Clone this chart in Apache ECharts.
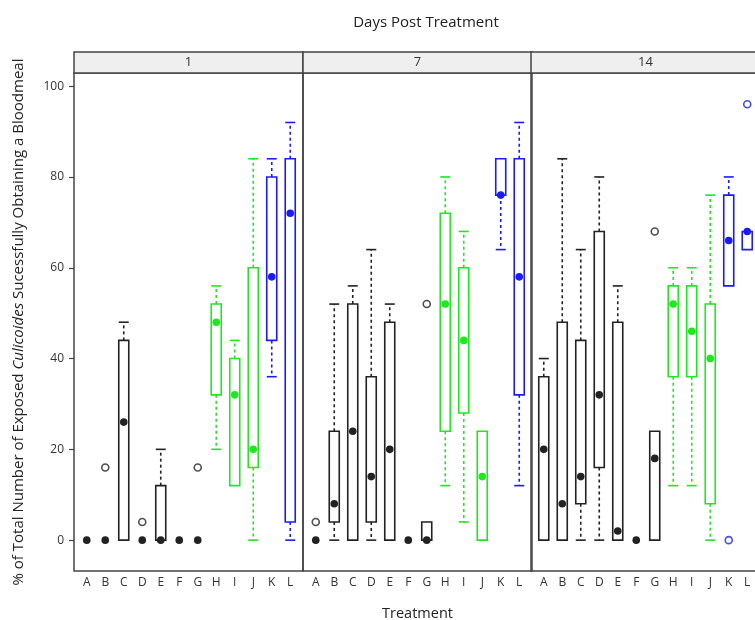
<!DOCTYPE html>
<html>
<head>
<meta charset="utf-8">
<script src="https://cdn.jsdelivr.net/npm/echarts@6/dist/echarts.min.js"></script>
<style>
  html, body { margin: 0; padding: 0; background: #fff; }
</style>
</head>
<body>
<div id="main" style="width: 755px; height: 620px"></div>
<script type="text/javascript">
// treatments on the x axis of every panel
var treatments = ['A', 'B', 'C', 'D', 'E', 'F', 'G', 'H', 'I', 'J', 'K', 'L'];
var days = ['1', '7', '14'];
var yTicks = [0, 20, 40, 60, 80, 100];

// box stats per treatment: [low whisker, q1, median, q3, high whisker]
var day1Stats = [
  [0, 0, 0, 0, 0], [0, 0, 0, 0, 0], [0, 0, 26, 44, 48], [0, 0, 0, 0, 0],
  [0, 0, 0, 12, 20], [0, 0, 0, 0, 0], [0, 0, 0, 0, 0], [20, 32, 48, 52, 56],
  [12, 12, 32, 40, 44], [0, 16, 20, 60, 84], [36, 44, 58, 80, 84], [0, 4, 72, 84, 92]
];
var day7Stats = [
  [0, 0, 0, 0, 0], [0, 4, 8, 24, 52], [0, 0, 24, 52, 56], [0, 4, 14, 36, 64],
  [0, 0, 20, 48, 52], [0, 0, 0, 0, 0], [0, 0, 0, 4, 4], [12, 24, 52, 72, 80],
  [4, 28, 44, 60, 68], [0, 0, 14, 24, 24], [64, 76, 76, 84, 84], [12, 32, 58, 84, 92]
];
var day14Stats = [
  [0, 0, 20, 36, 40], [0, 0, 8, 48, 84], [0, 8, 14, 44, 64], [0, 16, 32, 68, 80],
  [0, 0, 2, 48, 56], [0, 0, 0, 0, 0], [0, 0, 18, 24, 24], [12, 36, 52, 56, 60],
  [12, 36, 46, 56, 60], [0, 8, 40, 52, 76], [56, 56, 66, 76, 80], [64, 64, 68, 68, 68]
];

// outliers: [treatment, value]
var day1Outliers = [['B', 16], ['D', 4], ['G', 16]];
var day7Outliers = [['A', 4], ['G', 52]];
var day14Outliers = [['G', 68], ['K', 0], ['L', 96]];

var allStats = [day1Stats, day7Stats, day14Stats];
var allOutliers = [day1Outliers, day7Outliers, day14Outliers];

// colours: A-G black, H-J green, K-L blue
function colorFor(i) {
  if (i < 7) return '#222';
  if (i < 10) return '#1ee81e';
  return '#1a1aff';
}

var font = '"Open Sans", "Noto Sans", sans-serif';
var panelLeft = [74, 303, 531];
var panelW = 229;
var panelTop = 73;
var panelH = 498;
var stripH = 21;

var boxW = 10;

function renderBox(params, api) {
  var x = api.value(0);
  var low = api.value(1), q1 = api.value(2), med = api.value(3), q3 = api.value(4), high = api.value(5);
  var color = colorFor(params.dataIndex);
  var pLow = api.coord([x, low]);
  var pQ1 = api.coord([x, q1]);
  var pMed = api.coord([x, med]);
  var pQ3 = api.coord([x, q3]);
  var pHigh = api.coord([x, high]);
  var cx = pMed[0];
  var kids = [];
  var dash = { stroke: color, lineWidth: 1.6, lineDash: [3, 3] };
  var solid = { stroke: color, lineWidth: 1.6 };
  if (high > q3) {
    kids.push({ type: 'line', shape: { x1: cx, y1: pQ3[1], x2: cx, y2: pHigh[1] }, style: dash });
    kids.push({ type: 'line', shape: { x1: cx - boxW / 2, y1: pHigh[1], x2: cx + boxW / 2, y2: pHigh[1] }, style: solid });
  }
  if (low < q1) {
    kids.push({ type: 'line', shape: { x1: cx, y1: pQ1[1], x2: cx, y2: pLow[1] }, style: dash });
    kids.push({ type: 'line', shape: { x1: cx - boxW / 2, y1: pLow[1], x2: cx + boxW / 2, y2: pLow[1] }, style: solid });
  }
  if (q3 > q1) {
    kids.push({
      type: 'rect',
      shape: { x: cx - boxW / 2, y: pQ3[1], width: boxW, height: pQ1[1] - pQ3[1] },
      style: { fill: '#fff', stroke: color, lineWidth: 1.6 }
    });
  }
  kids.push({ type: 'circle', shape: { cx: cx, cy: pMed[1], r: 3.8 }, style: { fill: color } });
  return { type: 'group', children: kids };
}

var grids = [], xAxes = [], yAxes = [], series = [], graphics = [];
days.forEach(function (d, k) {
  grids.push({
    left: panelLeft[k], top: panelTop, width: panelW, height: panelH,
    outerBoundsMode: 'none', containLabel: false,
    show: true, borderColor: '#444', borderWidth: 1.5, backgroundColor: 'transparent'
  });
  xAxes.push({
    gridIndex: k, type: 'value', min: 0.31, max: 12.69,
    axisLine: { show: false }, axisTick: { show: false }, splitLine: { show: false },
    axisLabel: {
      customValues: treatments.map(function (t, i) { return i + 1; }),
      formatter: function (v) { return treatments[Math.round(v) - 1] || ''; },
      color: '#333', fontFamily: font, fontSize: 12, margin: 6
    },
    name: k === 1 ? 'Treatment' : '',
    nameLocation: 'middle', nameGap: 35,
    nameTextStyle: { color: '#222', fontFamily: font, fontSize: 14.5 }
  });
  yAxes.push({
    gridIndex: k, type: 'value', min: -6.8, max: 102.9,
    axisLine: { show: false }, splitLine: { show: false },
    axisTick: { show: k === 0, length: 5, customValues: yTicks, lineStyle: { color: '#444', width: 1.2 } },
    axisLabel: {
      show: k === 0, customValues: yTicks, color: '#333', fontFamily: font, fontSize: 12, margin: 10
    },
    name: k === 0 ? '% of Total Number of Exposed {i|Culicoides} Sucessfully Obtaining a Bloodmeal' : '',
    nameLocation: 'middle', nameRotate: 90, nameGap: 48,
    nameTextStyle: {
      color: '#222', fontFamily: font, fontSize: 15,
      rich: { i: { fontStyle: 'italic', fontFamily: font, fontSize: 15, color: '#222' } }
    }
  });
  series.push({
    type: 'custom', xAxisIndex: k, yAxisIndex: k,
    renderItem: renderBox,
    data: allStats[k].map(function (s, i) { return [i + 1].concat(s); }),
    z: 3
  });
  series.push({
    type: 'scatter', xAxisIndex: k, yAxisIndex: k,
    symbol: 'circle', symbolSize: 7,
    data: allOutliers[k].map(function (o) {
      var i = treatments.indexOf(o[0]);
      return { value: [i + 1, o[1]], itemStyle: { color: '#fff', borderColor: colorFor(i), borderWidth: 1.6 } };
    }),
    z: 4
  });
  // strip label above each panel
  graphics.push({
    type: 'rect', z: 10,
    shape: { x: panelLeft[k], y: panelTop - stripH, width: panelW, height: stripH },
    style: { fill: '#efefef', stroke: '#444', lineWidth: 1.5 }
  });
  graphics.push({
    type: 'text', z: 11,
    x: panelLeft[k] + panelW / 2, y: panelTop - stripH / 2,
    style: { text: d, fill: '#333', font: '13px ' + font, align: 'center', verticalAlign: 'middle' }
  });
});

var myChart = echarts.init(document.getElementById('main'));
myChart.setOption({
  animation: false,
  backgroundColor: '#fff',
  title: {
    text: 'Days Post Treatment', left: 421, top: 10, textAlign: 'center',
    textStyle: { color: '#222', fontFamily: font, fontSize: 15, fontWeight: 'normal' }
  },
  grid: grids,
  xAxis: xAxes,
  yAxis: yAxes,
  series: series,
  graphic: graphics
});
</script>
</body>
</html>
